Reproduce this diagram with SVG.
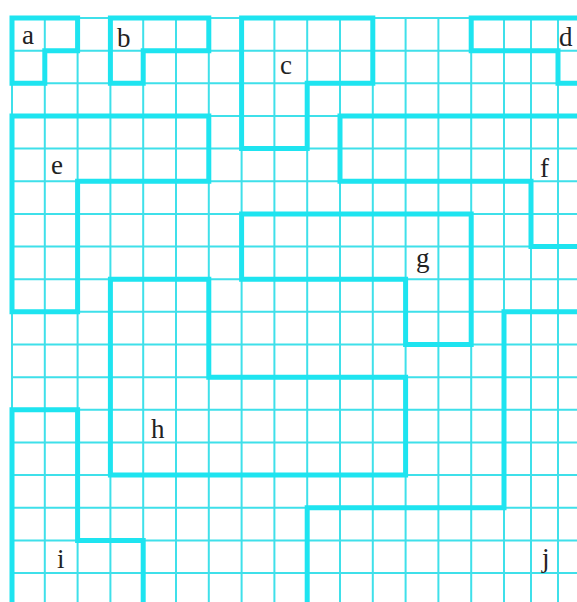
<svg xmlns="http://www.w3.org/2000/svg" width="577" height="602" viewBox="0 0 577 602">
<style>
.grid{fill:none;stroke:#3fe0ea;stroke-width:2}
.shape path{fill:none;stroke:#1ee4f0;stroke-width:5;stroke-linejoin:miter}
.lbl{font-family:"Liberation Serif","Times New Roman",serif;font-size:27px;fill:#222}
</style>
<rect width="577" height="602" fill="#ffffff"/>
<g id="grid" class="grid">
<path d="M12,18V602M44.8,18V602M77.6,18V602M110.4,18V602M143.2,18V602M176,18V602M208.8,18V602M241.6,18V602M274.4,18V602M307.2,18V602M340,18V602M372.8,18V602M405.6,18V602M438.4,18V602M471.2,18V602M504,18V602M531,18V602M558,18V602"/>
<path d="M12,18H577M12,50.65H577M12,83.3H577M12,115.95H577M12,148.6H577M12,181.25H577M12,213.9H577M12,246.55H577M12,279.2H577M12,311.85H577M12,344.5H577M12,377.15H577M12,409.8H577M12,442.45H577M12,475.1H577M12,507.75H577M12,540.4H577M12,573.05H577"/>
</g>
<g class="shape">
<g id="a"><path d="M12,18H77.6V50.65H44.8V83.3H12Z"/><text class="lbl" x="22" y="44">a</text></g>
<g id="b"><path d="M110.4,18H208.8V50.65H143.2V83.3H110.4Z"/><text class="lbl" x="117" y="47">b</text></g>
<g id="c"><path d="M241.6,18H372.8V83.3H307.2V148.6H241.6Z"/><text class="lbl" x="280" y="74">c</text></g>
<g id="d"><path d="M471.2,18H590V83.3H558V50.65H471.2Z"/><text class="lbl" x="559" y="46">d</text></g>
<g id="e"><path d="M12,115.95H208.8V181.25H77.6V311.85H12Z"/><text class="lbl" x="51" y="174">e</text></g>
<g id="f"><path d="M340,115.95H590V246.55H531V181.25H340Z"/><text class="lbl" x="540" y="177">f</text></g>
<g id="g"><path d="M241.6,213.9H471.2V344.5H405.6V279.2H241.6Z"/><text class="lbl" x="416" y="267">g</text></g>
<g id="h"><path d="M110.4,279.2H208.8V377.15H405.6V475.1H110.4Z"/><text class="lbl" x="151" y="438">h</text></g>
<g id="i"><path d="M12,409.8H77.6V540.4H143.2V610H12Z"/><text class="lbl" x="57" y="568">i</text></g>
<g id="j"><path d="M504,311.85H590V610H307.2V507.75H504Z"/><text class="lbl" x="542" y="567">j</text></g>
</g>
</svg>
